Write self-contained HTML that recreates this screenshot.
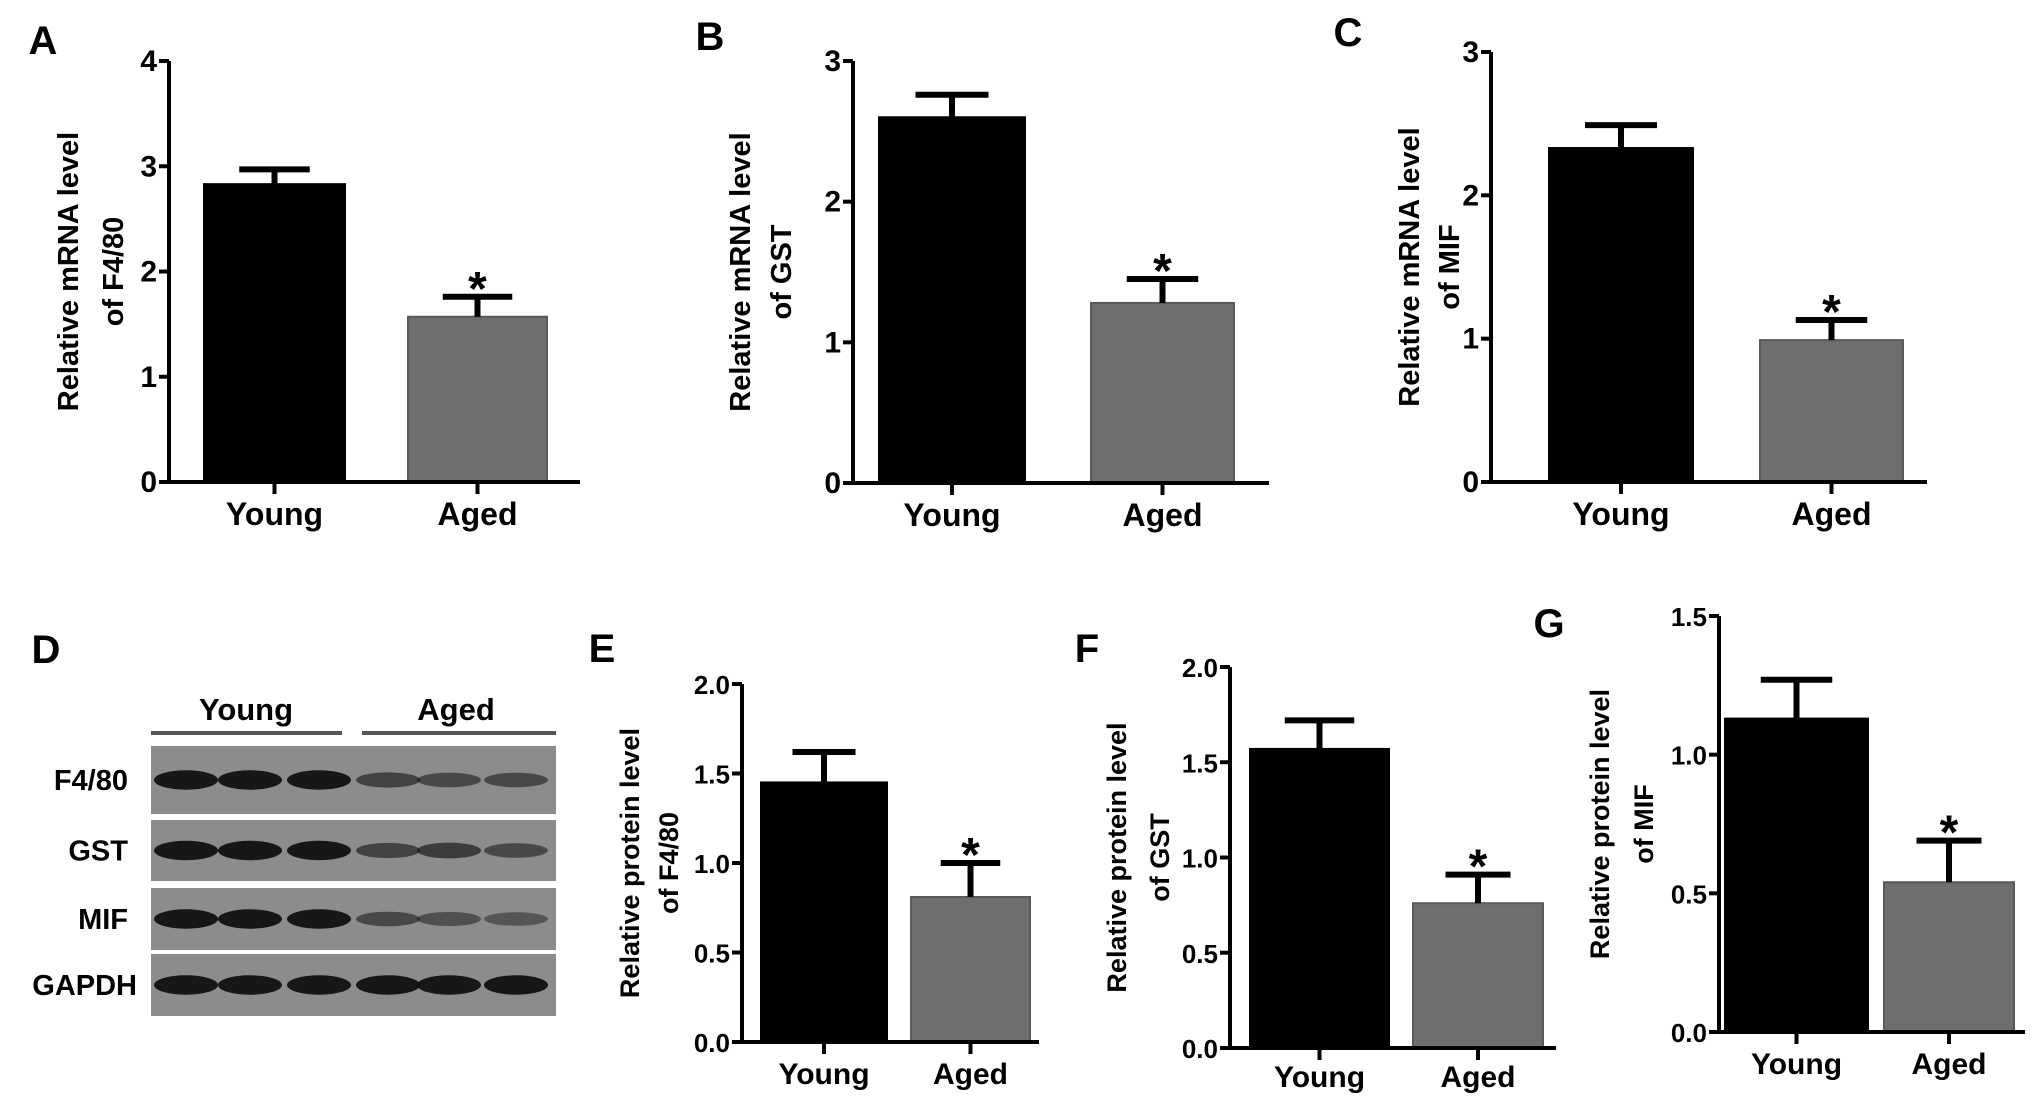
<!DOCTYPE html>
<html><head><meta charset="utf-8"><style>
html,body{margin:0;padding:0;background:#fff;}
svg{display:block;font-family:"Liberation Sans",Arial,sans-serif;font-weight:bold;}
</style></head><body>
<svg id="fig" width="2031" height="1103" viewBox="0 0 2031 1103">
<g id="blot"></g>
</svg>
<script>
const categories = ["Young", "Aged"];
const panelLetters = ["A", "B", "C", "E", "F", "G"];
const panelTitles = [["Relative mRNA level","of  F4/80"],["Relative mRNA level","of  GST"],["Relative mRNA level","of  MIF"],["Relative protein level","of  F4/80"],["Relative protein level","of  GST"],["Relative protein level","of  MIF"]];
const valuesA = [2.83, 1.57]; const errA = [2.97, 1.76];
const valuesB = [2.60, 1.28]; const errB = [2.76, 1.45];
const valuesC = [2.33, 0.99]; const errC = [2.49, 1.13];
const valuesE = [1.45, 0.81]; const errE = [1.62, 1.00];
const valuesF = [1.57, 0.76]; const errF = [1.72, 0.91];
const valuesG = [1.13, 0.54]; const errG = [1.27, 0.69];
const ticksA = [0,1,2,3,4]; const ticksB = [0,1,2,3]; const ticksC = [0,1,2,3];
const ticksE = [0,0.5,1.0,1.5,2.0]; const ticksF = [0,0.5,1.0,1.5,2.0]; const ticksG = [0,0.5,1.0,1.5];
const significant = [false, true];

const NS="http://www.w3.org/2000/svg";
const svg=document.getElementById('fig');
function mk(tag,attrs,parent,txt){const e=document.createElementNS(NS,tag);for(const k in attrs)e.setAttribute(k,attrs[k]);if(txt!==undefined)e.textContent=txt;(parent||svg).appendChild(e);return e;}

const layouts=[
 {ax:169,x1:580,top:61,zero:482,bars:[[204,345],[408,547]],letter:[43,40],tl:[68,113],catY:527,dec:0},
 {ax:853,x1:1269,top:61,zero:483,bars:[[879,1025],[1091,1234]],letter:[710,36],tl:[740,781],catY:528,dec:0},
 {ax:1491,x1:1927,top:52,zero:482,bars:[[1549,1693],[1760,1903]],letter:[1348,32],tl:[1409,1449],catY:527,dec:0},
 {ax:742,x1:1039,top:684,zero:1042,bars:[[761,887],[911,1030]],letter:[602,648],tl:[629,668],catY:1086,dec:1},
 {ax:1230,x1:1556,top:667,zero:1048,bars:[[1250,1389],[1413,1543]],letter:[1087,648],tl:[1116,1159],catY:1089,dec:1},
 {ax:1719,x1:2025,top:616,zero:1032,bars:[[1725,1868],[1884,2014]],letter:[1549,623],tl:[1599,1643],catY:1076,dec:1}
];
const vals=[valuesA,valuesB,valuesC,valuesE,valuesF,valuesG];
const errs=[errA,errB,errC,errE,errF,errG];
const ticks=[ticksA,ticksB,ticksC,ticksE,ticksF,ticksG];

layouts.forEach((L,i)=>{
  const g=mk('g',{});
  
  
  const tk=ticks[i]; const maxT=tk[tk.length-1];
  const y=v=>L.zero-(v/maxT)*(L.zero-L.top);
  const fs=L.dec?27:29;
  const lt=mk('text',{x:L.letter[0],y:L.letter[1]+14,'font-size':40,'text-anchor':'middle'},g,panelLetters[i]);
  
  
  vals[i].forEach((v,j)=>{
    const [bx0,bx1]=L.bars[j];
    const r=mk('rect',{x:bx0,y:y(v),width:bx1-bx0,height:L.zero-y(v),fill:j===0?'#000':'#6e6e6e',stroke:j===0?'#000':'#5a5a5a','stroke-width':2},g);
    
    
    const cx=(bx0+bx1)/2, cw=(bx1-bx0)*0.25;
    const e=mk('path',{d:`M${cx} ${y(v)}V${y(errs[i][j])}M${cx-cw} ${y(errs[i][j])}H${cx+cw}`,stroke:'#000','stroke-width':6,fill:'none'},g);
    
    
    if(significant[j]){
      const s=mk('text',{x:cx,y:y(errs[i][j])+8,'font-size':48,'text-anchor':'middle'},g,'*');
      
      
    }
    const cl=mk('text',{x:cx,y:L.catY-2,'font-size':fs+3,'text-anchor':'middle'},g,categories[j]);
    
    
    mk('line',{x1:cx,x2:cx,y1:L.zero,y2:L.zero+12,stroke:'#000','stroke-width':4},g);
  });
  const a=mk('path',{d:`M${L.ax} ${L.top}V${L.zero}H${L.x1}`,stroke:'#000','stroke-width':4,fill:'none'},g);
  
  
  tk.forEach(t=>{
    mk('line',{x1:L.ax-10,x2:L.ax,y1:y(t),y2:y(t),stroke:'#000','stroke-width':4},g);
    const tl=mk('text',{x:L.ax-12,y:y(t)+10,'font-size':L.dec?26:30,'text-anchor':'end'},g,L.dec?t.toFixed(1):String(t));
    
    
  });
  const cy=(L.top+L.zero)/2;
  panelTitles[i].forEach((line,k)=>{
    const xx=L.tl[k]+10;
    const t=mk('text',{x:xx,y:cy,'font-size':fs,'text-anchor':'middle',transform:`rotate(-90 ${xx} ${cy})`},g,line);
    
    
  });
});

const blotRows=["F4/80","GST","MIF","GAPDH"];
const bandIntensity=[[0.95,0.95,0.95,0.6,0.55,0.55],[0.95,0.95,0.95,0.6,0.65,0.55],[0.95,0.95,0.95,0.55,0.5,0.45],[0.95,0.95,0.95,0.95,0.95,0.95]];
const blot=document.getElementById('blot');
const lanes=[186,250,319,388,449,516];
const rowsY=[[746,814],[820,881],[888,950],[954,1016]];
mk('text',{x:46,y:663,'font-size':40,'text-anchor':'middle'},blot,'D');
const yt=mk('text',{x:246,y:720,'font-size':31,'text-anchor':'middle'},blot,'Young');


mk('text',{x:456,y:720,'font-size':31,'text-anchor':'middle'},blot,'Aged');
mk('line',{x1:151,x2:342,y1:733,y2:733,stroke:'#555','stroke-width':4},blot);
mk('line',{x1:362,x2:556,y1:733,y2:733,stroke:'#555','stroke-width':4},blot);
blotRows.forEach((name,r)=>{
  const [y0,y1]=rowsY[r];
  const strip=mk('rect',{x:151,y:y0,width:405,height:y1-y0,fill:'#8c8c8c'},blot);
  
  
  const lb=mk('text',{x:r===3?137:128,y:(y0+y1)/2+10,'font-size':29,'text-anchor':'end'},blot,name);
  
  
  lanes.forEach((lx,l)=>{
    const it=bandIntensity[r][l];
    const b=mk('ellipse',{cx:lx,cy:(y0+y1)/2,rx:32,ry:4+6*it,fill:'#111','fill-opacity':it},blot);
    
    
  });
});
</script>
</body></html>
